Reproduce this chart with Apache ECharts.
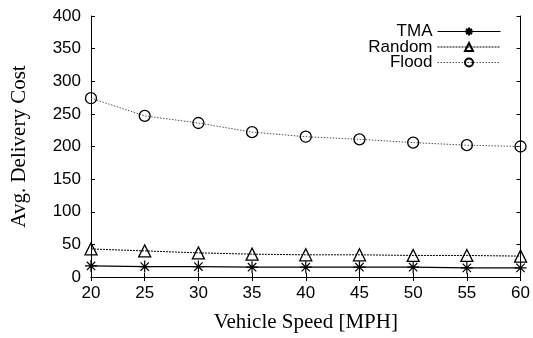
<!DOCTYPE html>
<html>
<head>
<meta charset="utf-8">
<script src="https://cdn.jsdelivr.net/npm/echarts@6/dist/echarts.min.js"></script>
<style>
html,body{margin:0;padding:0;background:#fff;}
#c{width:533px;height:338px;}
</style>
</head>
<body>
<div id="c"></div>
<script>
const speeds = [20, 25, 30, 35, 40, 45, 50, 55, 60];
const tma = [17, 16, 16, 15, 15, 15, 15, 14, 14];
const random = [43, 40, 37, 35, 34, 34, 33, 33, 32];
const flood = [274, 247, 236, 222, 215, 211, 206, 202, 200];
const seriesNames = ['TMA', 'Random', 'Flood'];
const xLabel = 'Vehicle Speed [MPH]';
const yLabel = 'Avg. Delivery Cost';

const asterisk = 'path://M-1,0L1,0M0,-1L0,1M-0.7,-0.7L0.7,0.7M-0.7,0.7L0.7,-0.7';
const pair = arr => speeds.map((s, i) => [s, arr[i]]);

const chart = echarts.init(document.getElementById('c'), null, {renderer: 'canvas'});
const sansFont = '"Liberation Sans", Arial, Helvetica, sans-serif';
const serifFont = '"Liberation Serif", "Times New Roman", serif';

const baseAxisLine = {show: true, lineStyle: {color: '#000', width: 1}};
chart.setOption({
  animation: false,
  backgroundColor: '#fff',
  grid: {left: 91, right: 11, top: 16, bottom: 61},
  legend: {
    show: true,
    orient: 'vertical',
    right: 27,
    top: 18,
    align: 'right',
    itemWidth: 63,
    itemHeight: 10,
    itemGap: -1.5,
    lineStyle: {width: 1},
    textStyle: {fontFamily: sansFont, fontSize: 17, color: '#000'},
    data: seriesNames
  },
  xAxis: [{
    type: 'value', min: 20, max: 60, interval: 5,
    name: xLabel, nameLocation: 'middle', nameGap: 35,
    nameTextStyle: {fontFamily: serifFont, fontSize: 21, color: '#000'},
    axisLine: baseAxisLine,
    axisTick: {show: true, inside: true, length: 4, lineStyle: {color: '#000'}},
    axisLabel: {fontFamily: sansFont, fontSize: 17, color: '#000', margin: 8},
    splitLine: {show: false}
  }, {
    type: 'value', min: 20, max: 60, interval: 5, position: 'top',
    axisLine: baseAxisLine,
    axisTick: {show: true, inside: true, length: 4, lineStyle: {color: '#000'}},
    axisLabel: {show: false}, splitLine: {show: false}
  }],
  yAxis: [{
    type: 'value', min: 0, max: 400, interval: 50,
    name: yLabel, nameLocation: 'middle', nameGap: 61,
    nameTextStyle: {fontFamily: serifFont, fontSize: 21, color: '#000'},
    axisLine: baseAxisLine,
    axisTick: {show: true, inside: true, length: 4, lineStyle: {color: '#000'}},
    axisLabel: {fontFamily: sansFont, fontSize: 17, color: '#000', margin: 10},
    splitLine: {show: false}
  }, {
    type: 'value', min: 0, max: 400, interval: 50, position: 'right',
    axisLine: baseAxisLine,
    axisTick: {show: true, inside: true, length: 4, lineStyle: {color: '#000'}},
    axisLabel: {show: false}, splitLine: {show: false}
  }],
  series: [{
    name: seriesNames[0], type: 'line', data: pair(tma),
    symbol: asterisk, symbolSize: 12, showAllSymbol: true,
    lineStyle: {color: '#000', width: 1.2, type: 'solid'},
    itemStyle: {color: 'none', borderColor: '#000', borderWidth: 1.2},
    z: 3
  }, {
    name: seriesNames[1], type: 'line', data: pair(random),
    symbol: 'triangle', symbolSize: 12, showAllSymbol: true,
    lineStyle: {color: '#000', width: 1, type: [2, 1]},
    itemStyle: {color: 'rgba(255,255,255,0)', borderColor: '#000', borderWidth: 1.3},
    z: 2
  }, {
    name: seriesNames[2], type: 'line', data: pair(flood),
    symbol: 'circle', symbolSize: 11, showAllSymbol: true,
    lineStyle: {color: '#555', width: 1, type: [1.5, 1.5]},
    itemStyle: {color: 'rgba(255,255,255,0)', borderColor: '#000', borderWidth: 1.3},
    z: 2
  }]
});
</script>
</body>
</html>
